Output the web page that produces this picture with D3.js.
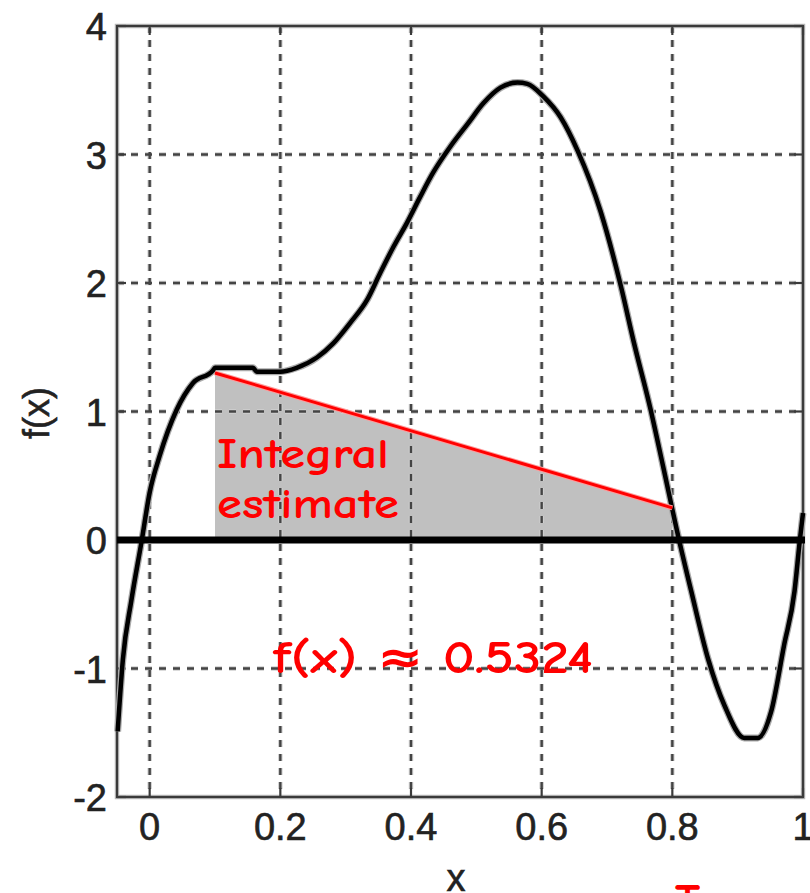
<!DOCTYPE html>
<html>
<head>
<meta charset="utf-8">
<script src="https://cdn.jsdelivr.net/npm/d3@7"></script>
<style>
  body { margin: 0; background: #fff; overflow: hidden; }
  svg { display: block; }
  .ticklabel { font-family: "Liberation Sans", Arial, sans-serif; font-size: 38px; fill: #222; stroke: #222; stroke-width: 0.6px; }
  .note { font-family: "Comic Sans MS", "Comic Neue", "DejaVu Sans", sans-serif; fill: #f00; font-weight: bold; }
</style>
</head>
<body>
<svg id="main" width="810" height="893"></svg>
<script>
// curve
const curveX = [-0.049, -0.041, -0.028, -0.012, 0, 0.015, 0.041, 0.066, 0.097, 0.1, 0.158, 0.164, 0.2, 0.225,
  0.256, 0.281, 0.307, 0.333, 0.353, 0.373, 0.394, 0.414, 0.434, 0.46, 0.487, 0.511, 0.537, 0.563, 0.578,
  0.603, 0.629, 0.655, 0.69, 0.721, 0.741, 0.767, 0.786, 0.809, 0.829, 0.855, 0.88, 0.91, 0.931, 0.951,
  0.971, 0.987, 0.995, 1.0];
const curveY = [-1.49, -0.93, -0.47, 0, 0.37, 0.65, 1.01, 1.22, 1.32, 1.34, 1.34, 1.31, 1.31, 1.34,
  1.42, 1.53, 1.69, 1.87, 2.08, 2.28, 2.47, 2.67, 2.86, 3.06, 3.24, 3.40, 3.52, 3.56, 3.55,
  3.45, 3.29, 3.03, 2.56, 1.98, 1.54, 1.01, 0.57, 0.03, -0.40, -0.93, -1.29, -1.54, -1.54, -1.34,
  -0.82, -0.40, -0.01, 0.21];

// trapezoid (integral estimate)
const trapX = [0.1, 0.8];
const trapY = [1.30, 0.25];

const xTicks = [0, 0.2, 0.4, 0.6, 0.8, 1];
const xTickLabels = ["0", "0.2", "0.4", "0.6", "0.8", "1"];
const yTicks = [-2, -1, 0, 1, 2, 3, 4];
const yTickLabels = ["-2", "-1", "0", "1", "2", "3", "4"];
const xLabel = "x";
const yLabel = "f(x)";
const noteLines = ["Integral", "estimate"];
const resultText = "f(x) ≈ 0.5324";
const cutText = "T";

const svg = d3.select("#main");
const x = d3.scaleLinear().domain([-0.05, 1]).range([117, 803]);
const y = d3.scaleLinear().domain([-2, 4]).range([797, 26]);
const [x0, x1] = x.range();
const [y0, y1] = y.range();

// shaded area under the chord
const trap = trapX.map((d, i) => [d, trapY[i]]);
svg.append("path")
  .datum(trap)
  .attr("fill", "#c0c0c0")
  .attr("d", d3.area().x(d => x(d[0])).y0(y(0)).y1(d => y(d[1])));

// dashed grid, drawn twice for the soft halo
function grid(color, width) {
  const g = svg.append("g").attr("fill", "none").attr("stroke", color)
    .attr("stroke-width", width).attr("stroke-dasharray", "7,7");
  g.selectAll(".v").data(xTicks.slice(0, -1)).enter().append("line")
    .attr("x1", d => x(d)).attr("x2", d => x(d)).attr("y1", y1).attr("y2", y0);
  g.selectAll(".h").data(yTicks.slice(1, -1)).enter().append("line")
    .attr("y1", d => y(d)).attr("y2", d => y(d)).attr("x1", x0).attr("x2", x1);
}
grid("#cfcfcf", 4.5);
grid("#444", 2.4);

// frame with inward ticks
const frame = svg.append("g").attr("fill", "none");
frame.append("rect").attr("x", x0).attr("y", y1).attr("width", x1 - x0).attr("height", y0 - y1)
  .attr("stroke", "#bbb").attr("stroke-width", 4.5);
frame.append("rect").attr("x", x0).attr("y", y1).attr("width", x1 - x0).attr("height", y0 - y1)
  .attr("stroke", "#3a3a3a").attr("stroke-width", 2.2);
const ticks = frame.append("g").attr("stroke", "#3a3a3a").attr("stroke-width", 2.2);
xTicks.forEach(t => {
  ticks.append("line").attr("x1", x(t)).attr("x2", x(t)).attr("y1", y1).attr("y2", y1 + 9);
  ticks.append("line").attr("x1", x(t)).attr("x2", x(t)).attr("y1", y0).attr("y2", y0 - 9);
});
yTicks.forEach(t => {
  ticks.append("line").attr("y1", y(t)).attr("y2", y(t)).attr("x1", x0).attr("x2", x0 + 9);
  ticks.append("line").attr("y1", y(t)).attr("y2", y(t)).attr("x1", x1).attr("x2", x1 - 9);
});

// tick labels
svg.selectAll(".xl").data(xTicks).enter().append("text")
  .attr("class", "ticklabel").attr("text-anchor", "middle")
  .attr("x", d => x(d)).attr("y", y0 + 43)
  .text((d, i) => xTickLabels[i]);
svg.selectAll(".yl").data(yTicks).enter().append("text")
  .attr("class", "ticklabel").attr("text-anchor", "end")
  .attr("x", x0 - 10).attr("y", d => y(d) + 14)
  .text((d, i) => yTickLabels[i]);

svg.append("text").attr("class", "ticklabel").attr("text-anchor", "middle")
  .attr("x", 456).attr("y", 891).text(xLabel);
svg.append("text").attr("class", "ticklabel").attr("text-anchor", "middle")
  .attr("transform", "translate(49,413) rotate(-90)").style("font-size", "36px").text(yLabel);

// function curve
const pts = curveX.map((d, i) => [d, curveY[i]]);
const line = d3.line().x(d => x(d[0])).y(d => y(d[1])).curve(d3.curveMonotoneX);
svg.append("path").datum(pts).attr("fill", "none").attr("stroke", "#aaa")
  .attr("stroke-width", 7).attr("stroke-linejoin", "round").attr("d", line);
svg.append("path").datum(pts).attr("fill", "none").attr("stroke", "#000")
  .attr("stroke-width", 4.5).attr("stroke-linejoin", "round").attr("d", line);

// chord
const chord = d3.line().x(d => x(d[0])).y(d => y(d[1]));
svg.append("path").datum(trap).attr("fill", "none").attr("stroke", "#f99")
  .attr("stroke-width", 5).attr("d", chord);
svg.append("path").datum(trap).attr("fill", "none").attr("stroke", "#f00")
  .attr("stroke-width", 3).attr("d", chord);

// zero line
svg.append("line").attr("x1", x0).attr("x2", x1 + 2).attr("y1", y(0)).attr("y2", y(0))
  .attr("stroke", "#000").attr("stroke-width", 7);

// annotations
svg.selectAll(".note1").data(noteLines).enter().append("text")
  .attr("class", "note").style("font-size", "42px")
  .attr("x", 217).attr("y", (d, i) => 468 + i * 50)
  .attr("textLength", (d, i) => i === 0 ? 172 : 182).attr("lengthAdjust", "spacingAndGlyphs")
  .text(d => d);
svg.append("text").attr("class", "note").style("font-size", "46px")
  .attr("x", 273).attr("y", 673)
  .attr("textLength", 320).attr("lengthAdjust", "spacingAndGlyphs")
  .text(resultText);
svg.append("text").attr("class", "note").style("font-size", "48px")
  .attr("x", 675).attr("y", 918).text(cutText);
</script>
</body>
</html>
